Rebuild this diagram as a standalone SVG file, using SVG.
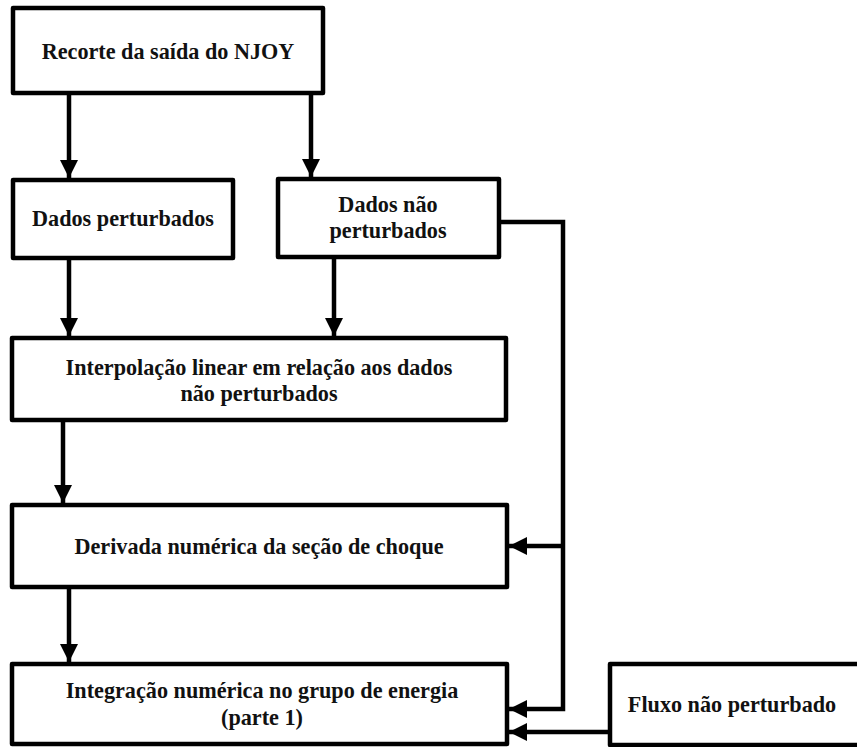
<svg xmlns="http://www.w3.org/2000/svg" width="857" height="747" viewBox="0 0 857 747">
<style>
.box{fill:#fff;stroke:#000;stroke-width:4.5;stroke-linejoin:round}
.t{font-weight:bold;font-size:22.2px;fill:#111;text-anchor:middle}
.c{fill:none;stroke:#000;stroke-width:4.5}
</style>
<defs>
<marker id="ah" markerUnits="userSpaceOnUse" markerWidth="20" markerHeight="20" refX="18" refY="9" orient="auto">
<path d="M0,0 L18,9 L0,18 Z" fill="#000"/>
</marker>
</defs>
<g id="connectors">
<path class="c" d="M69,93 V178" marker-end="url(#ah)"/>
<path class="c" d="M311,93 V177" marker-end="url(#ah)"/>
<path class="c" d="M69,258 V336" marker-end="url(#ah)"/>
<path class="c" d="M334,257 V336" marker-end="url(#ah)"/>
<path class="c" d="M63,420 V503" marker-end="url(#ah)"/>
<path class="c" d="M69,582 V662" marker-end="url(#ah)"/>
<path class="c" d="M499,222 H563 V709 H509" marker-end="url(#ah)"/>
<path class="c" d="M563,546 H509" marker-end="url(#ah)"/>
<path class="c" d="M610,732 H509" marker-end="url(#ah)"/>
</g>
<g font-family="'Liberation Serif','DejaVu Serif','Times New Roman',serif">
<g id="n1"><rect class="box" x="13" y="8" width="310" height="85"/><text class="t" x="168" y="59">Recorte da saída do NJOY</text></g>
<g id="n2"><rect class="box" x="13" y="180" width="220" height="78"/><text class="t" x="123" y="226">Dados perturbados</text></g>
<g id="n3"><rect class="box" x="278" y="179" width="221" height="78"/><text class="t" x="388" y="212">Dados não</text><text class="t" x="388" y="238">perturbados</text></g>
<g id="n4"><rect class="box" x="12" y="338" width="494" height="82"/><text class="t" x="259" y="375">Interpolação linear em relação aos dados</text><text class="t" x="259" y="401">não perturbados</text></g>
<g id="n5"><rect class="box" x="12" y="505" width="495" height="82"/><text class="t" x="259" y="554">Derivada numérica da seção de choque</text></g>
<g id="n6"><rect class="box" x="12" y="664" width="495" height="80"/><text class="t" x="262" y="698">Integração numérica no grupo de energia</text><text class="t" x="262" y="725">(parte 1)</text></g>
<g id="n7"><rect class="box" x="610" y="664" width="260" height="81"/><text class="t" x="732" y="712">Fluxo não perturbado</text></g>
</g>
</svg>
